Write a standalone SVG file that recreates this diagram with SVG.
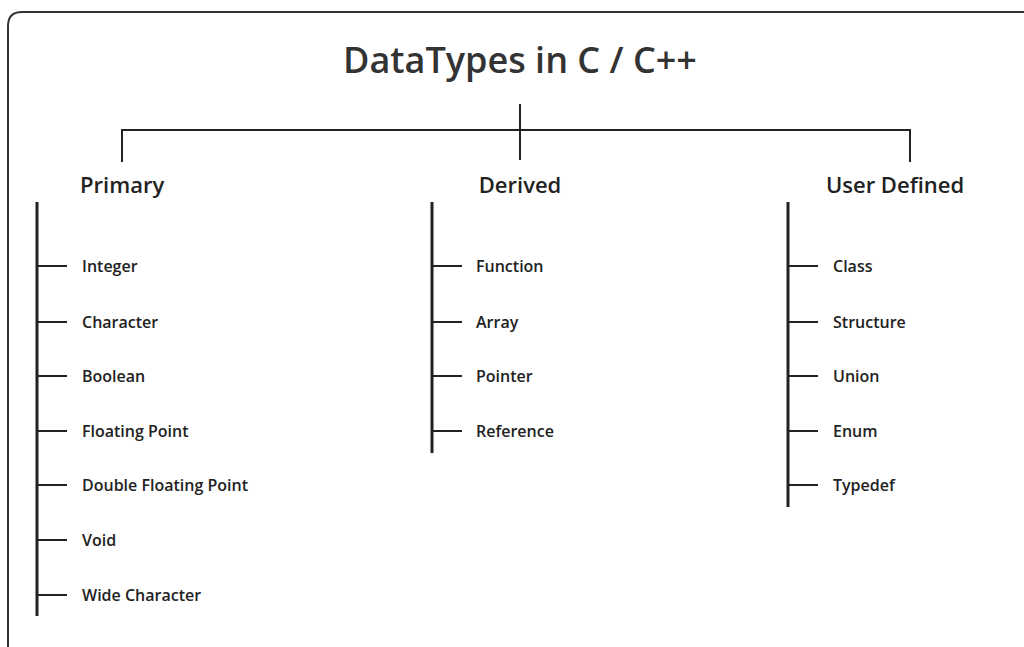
<svg xmlns="http://www.w3.org/2000/svg" width="1024" height="647" viewBox="0 0 1024 647">
<style>
text{font-family:"Open Sans","Noto Sans","Liberation Sans",sans-serif;fill:#222;font-weight:600}
.title{font-size:36px;fill:#333}
.head{font-size:22px}
.item{font-size:16px}
.spine{stroke:#222;stroke-width:3;fill:none}
.tick{stroke:#222;stroke-width:2;fill:none}
.conn{stroke:#222;stroke-width:2;fill:none}
</style>
<rect x="0" y="0" width="1024" height="647" fill="#fff"/>
<path d="M8 647 V26 Q8 12 22 12 H1030" fill="none" stroke="#333" stroke-width="2"/>
<g id="title"><text class="title" x="520" y="73" text-anchor="middle">DataTypes in C / C++</text></g>
<g id="connectors">
<path class="conn" d="M520 104 V160 M122 162 V130 H910 V162" stroke-width="1.5"/>
</g>
<g id="primary">
<text class="head" x="80" y="193">Primary</text>
<line class="spine" x1="37" y1="202" x2="37" y2="616"/>
<path class="tick" d="M37 266 H67 M37 322 H67 M37 376 H67 M37 431 H67 M37 485 H67 M37 540 H67 M37 595 H67"/>
<text class="item" x="82" y="272">Integer</text>
<text class="item" x="82" y="328">Character</text>
<text class="item" x="82" y="382">Boolean</text>
<text class="item" x="82" y="437">Floating Point</text>
<text class="item" x="82" y="491">Double Floating Point</text>
<text class="item" x="82" y="546">Void</text>
<text class="item" x="82" y="601">Wide Character</text>
</g>
<g id="derived">
<text class="head" x="520" y="193" text-anchor="middle">Derived</text>
<line class="spine" x1="432" y1="202" x2="432" y2="453"/>
<path class="tick" d="M432 266 H462 M432 322 H462 M432 376 H462 M432 431 H462"/>
<text class="item" x="476" y="272">Function</text>
<text class="item" x="476" y="328">Array</text>
<text class="item" x="476" y="382">Pointer</text>
<text class="item" x="476" y="437">Reference</text>
</g>
<g id="userdefined">
<text class="head" x="895" y="193" text-anchor="middle">User Defined</text>
<line class="spine" x1="788" y1="202" x2="788" y2="507"/>
<path class="tick" d="M788 266 H818 M788 322 H818 M788 376 H818 M788 431 H818 M788 485 H818"/>
<text class="item" x="833" y="272">Class</text>
<text class="item" x="833" y="328">Structure</text>
<text class="item" x="833" y="382">Union</text>
<text class="item" x="833" y="437">Enum</text>
<text class="item" x="833" y="491">Typedef</text>
</g>
</svg>
